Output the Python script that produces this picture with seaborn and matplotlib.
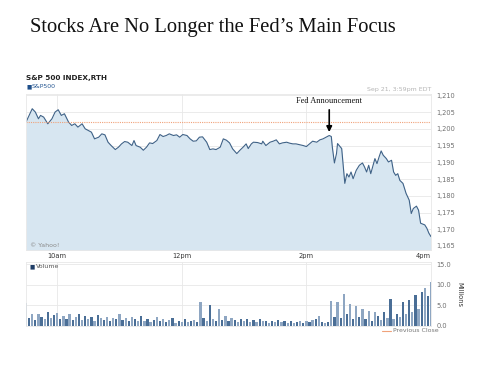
import matplotlib
matplotlib.use("Agg")
import matplotlib.pyplot as plt
import numpy as np
import pandas as pd
import seaborn as sns

# S&P 500 intraday, minutes after 9:30am
price_minutes = [0, 6, 9, 12, 14, 17, 21, 25, 28, 31, 34, 37, 41, 44, 47, 50, 54, 57, 60, 63,
                 66, 70, 73, 76, 79, 82, 86, 89, 92, 95, 98, 102, 104, 106, 110, 113, 116, 119,
                 122, 126, 129, 132, 135, 138, 142, 145, 148, 151, 155, 158, 161, 164, 167, 170,
                 174, 177, 180, 183, 187, 190, 193, 196, 199, 203, 206, 209, 212, 214, 217, 219,
                 223, 227, 228, 231, 235, 238, 241, 244, 247, 251, 254, 257, 260, 263, 267, 270,
                 273, 276, 280, 283, 286, 289, 292, 294, 295, 297, 299, 300, 304, 305, 307, 309,
                 311, 313, 315, 318, 321, 324, 326, 328, 330, 332, 336, 338, 340, 342, 344, 347,
                 349, 352, 354, 356, 358, 360, 363, 366, 369, 371, 373, 376, 378, 380, 384, 386,
                 388, 390]
price_values = [1202.0, 1206.0, 1205.0, 1203.0, 1204.0, 1203.5, 1201.5, 1203.0, 1205.0, 1205.7,
                1204.0, 1204.5, 1202.0, 1201.0, 1201.5, 1200.5, 1201.5, 1200.0, 1199.5, 1199.0,
                1197.0, 1197.5, 1198.5, 1198.2, 1196.0, 1195.0, 1193.8, 1194.5, 1195.5, 1196.2,
                1196.0, 1195.0, 1196.5, 1195.0, 1194.5, 1193.6, 1194.5, 1195.8, 1195.6, 1196.5,
                1198.3, 1197.7, 1198.0, 1198.5, 1198.0, 1198.2, 1197.5, 1198.3, 1198.0, 1197.0,
                1196.3, 1196.4, 1197.5, 1197.6, 1196.0, 1193.8, 1194.0, 1193.8, 1194.5, 1197.0,
                1196.6, 1195.8, 1194.0, 1192.6, 1193.6, 1194.5, 1195.5, 1194.1, 1195.5, 1196.0,
                1195.9, 1195.5, 1196.3, 1195.0, 1196.0, 1196.3, 1196.7, 1195.5, 1195.8, 1196.0,
                1195.7, 1195.5, 1195.5, 1195.3, 1195.0, 1194.7, 1195.5, 1196.3, 1196.0, 1196.7,
                1197.0, 1197.5, 1198.0, 1197.7, 1194.5, 1189.8, 1192.6, 1195.6, 1194.1, 1190.6,
                1183.7, 1186.6, 1185.6, 1187.1, 1185.1, 1187.6, 1189.1, 1189.8, 1188.6, 1187.1,
                1189.1, 1186.6, 1191.1, 1189.6, 1191.6, 1193.4, 1192.1, 1191.1, 1190.1, 1190.6,
                1187.1, 1186.1, 1186.6, 1184.6, 1183.7, 1180.7, 1178.7, 1174.7, 1176.2, 1176.9,
                1175.7, 1171.8, 1171.3, 1170.3, 1168.8, 1167.8]

previous_close = 1202.0
fed_minute = 292
fed_price = 1198.0

# volume in millions, one bar every 3 minutes from 9:30
volume_values = [5.5, 2.0, 2.8, 1.5, 3.0, 2.2, 1.8, 3.3, 2.0, 2.6,
                 3.2, 1.8, 2.5, 1.6, 2.9, 1.4, 2.2, 3.0, 1.5, 2.4,
                 1.7, 2.1, 1.3, 2.6, 1.9, 1.5, 2.3, 1.2, 2.0, 1.6,
                 2.8, 1.4, 1.9, 1.1, 2.2, 1.6, 1.3, 2.5, 1.2, 1.8,
                 1.0, 1.5, 2.1, 1.1, 1.7, 0.9, 1.4, 1.9, 0.8, 1.3,
                 1.0, 1.6, 0.9, 1.2, 1.5, 1.0, 5.8, 2.0, 1.3, 5.0,
                 1.8, 1.2, 4.0, 1.5, 2.4, 1.1, 1.9, 1.4, 1.0, 1.7,
                 1.3, 1.8, 1.0, 1.4, 0.9, 1.6, 1.1, 1.3, 0.8, 1.2,
                 0.9, 1.4, 1.0, 1.1, 0.8, 1.2, 0.7, 1.0, 1.3, 0.8,
                 1.1, 0.9, 1.4, 1.6, 2.4, 1.0, 0.7, 1.0, 6.0, 2.3,
                 5.8, 2.0, 7.8, 3.0, 5.4, 1.8, 4.8, 2.2, 4.1, 1.6,
                 3.7, 1.3, 3.3, 2.5, 1.5, 3.4, 2.0, 6.6, 1.8, 3.0,
                 2.3, 5.9, 2.8, 6.2, 3.5, 7.5, 4.0, 8.3, 9.2, 7.2,
                 10.6]
volume_minutes = [3 * i for i in range(len(volume_values))]

hour_ticks = [30, 150, 270, 390]
hour_labels = ["10am", "12pm", "2pm", "4pm"]
price_ticks = [1165, 1170, 1175, 1180, 1185, 1190, 1195, 1200, 1205, 1210]
volume_ticks = [0, 5, 10, 15]

sns.set_theme(style="white")
plt.rcParams["font.family"] = ["DejaVu Sans"]

LINE = "#3f6287"
FILL = "#d7e6f1"
GRID = "#e8e8e8"
TXT = "#707070"

fig = plt.figure(figsize=(4.9, 3.67), dpi=100)
ax = fig.add_axes([26 / 490, 1 - 250 / 367, 405 / 490, 156 / 367])
axv = fig.add_axes([26 / 490, 1 - 326 / 367, 405 / 490, 64 / 367])

df = pd.DataFrame({"minute": price_minutes, "price": price_values})
ax.fill_between(df["minute"], df["price"], 1150, color=FILL, lw=0)
sns.lineplot(data=df, x="minute", y="price", ax=ax, color=LINE, lw=0.8)
ax.axhline(previous_close, color="#f0a27a", lw=0.8, ls=(0, (1, 1)))

ax.set_xlim(0, 390)
ax.set_ylim(1163.8, 1210.4)
ax.yaxis.tick_right()
ax.set_yticks(price_ticks)
ax.set_yticklabels([f"{v:,}" for v in price_ticks])
ax.set_xticks(hour_ticks)
ax.set_xticklabels(hour_labels)
ax.tick_params(axis="y", labelsize=4.8, colors=TXT, length=0, pad=4)
ax.tick_params(axis="x", labelsize=4.8, labelcolor="#333333", length=0, pad=2)
ax.get_xticklabels()[-1].set_ha("right")
ax.grid(True, color=GRID, lw=0.6)
ax.set_xlabel("")
ax.set_ylabel("")
for s in ax.spines.values():
    s.set_color(GRID)
    s.set_linewidth(0.6)

ax.text(4, 1164.6, "© Yahoo!", fontsize=4.5, color="#8a8a8a")
ax.annotate("", xy=(fed_minute, fed_price + 0.2), xytext=(fed_minute, 1206.5),
            arrowprops=dict(arrowstyle="-|>", color="black", lw=1.2, mutation_scale=8))
ax.text(fed_minute, 1207.0, "Fed Announcement", fontsize=6, family="Liberation Serif",
        ha="center", va="bottom", color="#111111")

# volume panel
bar_colors = ["#8ea6c2" if i % 2 == 0 else "#4a6e96" for i in range(len(volume_values))]
axv.bar(volume_minutes, volume_values, width=2.2, color=bar_colors, lw=0)
axv.set_xlim(0, 390)
axv.set_ylim(0, 15.5)
axv.yaxis.tick_right()
axv.yaxis.set_label_position("right")
axv.set_yticks(volume_ticks)
axv.set_yticklabels([f"{v:.1f}" for v in volume_ticks])
axv.set_xticks(hour_ticks)
axv.set_xticklabels([])
axv.tick_params(axis="y", labelsize=4.8, colors=TXT, length=0, pad=4)
axv.tick_params(axis="x", length=0)
axv.grid(True, color=GRID, lw=0.6)
axv.set_ylabel("Millions", fontsize=4.8, color="#333333", rotation=270, labelpad=8)
for s in axv.spines.values():
    s.set_color(GRID)
    s.set_linewidth(0.6)

axv.text(0.008, 0.93, "■", transform=axv.transAxes, fontsize=4, color="#1f3d66", va="center")
axv.text(0.025, 0.93, "Volume", transform=axv.transAxes, fontsize=4.5, color="#555555", va="center")

# header texts
fig.text(30 / 490, 1 - 32 / 367, "Stocks Are No Longer the Fed\u2019s Main Focus",
         fontsize=14.8, family="Liberation Serif", color="#111111", va="baseline")
fig.text(26 / 490, 1 - 78 / 367, "S&P 500 INDEX,RTH", fontsize=5.2, fontweight="bold",
         color="#222222", va="center")
fig.text(26 / 490, 1 - 87 / 367, "■", fontsize=4, color="#1f4f8a", va="center")
fig.text(32 / 490, 1 - 87 / 367, "S&P500", fontsize=4.5, color="#2a5a94", va="center")
fig.text(431 / 490, 1 - 90 / 367, "Sep 21, 3:59pm EDT", fontsize=4.5, color="#b5b5b5",
         ha="right", va="center")
fig.lines.append(plt.Line2D([382 / 490, 391 / 490], [1 - 331 / 367, 1 - 331 / 367],
                            transform=fig.transFigure, color="#f0a27a", lw=0.8))
fig.text(393 / 490, 1 - 331 / 367, "Previous Close", fontsize=4.5, color="#777777", va="center")

fig.savefig("out.png", dpi=100)
